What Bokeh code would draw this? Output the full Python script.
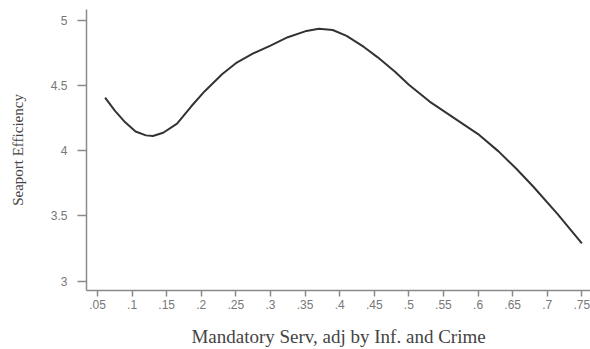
from bokeh.plotting import figure
from bokeh.models import FixedTicker, Range1d
from bokeh.embed import file_html
from bokeh.resources import INLINE

# Data
mandatory_serv = [0.061, 0.075, 0.09, 0.105, 0.12, 0.13, 0.145, 0.165, 0.185, 0.205,
                  0.23, 0.25, 0.275, 0.30, 0.325, 0.35, 0.37, 0.39, 0.41, 0.435,
                  0.455, 0.48, 0.50, 0.53, 0.565, 0.60, 0.63, 0.655, 0.68, 0.715, 0.75]
seaport_eff = [4.41, 4.31, 4.22, 4.15, 4.12, 4.115, 4.14, 4.21, 4.34, 4.46,
               4.59, 4.675, 4.75, 4.81, 4.875, 4.92, 4.94, 4.93, 4.885, 4.80,
               4.72, 4.61, 4.51, 4.38, 4.255, 4.13, 3.995, 3.865, 3.725, 3.515, 3.29]

x_ticks = [0.05, 0.1, 0.15, 0.2, 0.25, 0.3, 0.35, 0.4, 0.45, 0.5, 0.55, 0.6, 0.65, 0.7, 0.75]
x_tick_labels = [".05", ".1", ".15", ".2", ".25", ".3", ".35", ".4", ".45", ".5",
                 ".55", ".6", ".65", ".7", ".75"]
y_ticks = [3, 3.5, 4, 4.5, 5]
y_tick_labels = ["3", "3.5", "4", "4.5", "5"]

p = figure(width=590, height=349, output_backend="svg", toolbar_location=None,
           x_range=Range1d(0.0341, 0.7625), y_range=Range1d(2.927, 5.088),
           min_border_left=86, min_border_right=0, min_border_top=9, min_border_bottom=59)

p.line(mandatory_serv, seaport_eff, line_color="#333333", line_width=2)

p.grid.visible = False
p.outline_line_color = None

p.xaxis.ticker = FixedTicker(ticks=x_ticks)
p.xaxis.major_label_overrides = {t: l for t, l in zip(x_ticks, x_tick_labels)}
p.yaxis.ticker = FixedTicker(ticks=y_ticks)
p.yaxis.major_label_overrides = {t: l for t, l in zip(y_ticks, y_tick_labels)}

for ax in (p.xaxis[0], p.yaxis[0]):
    ax.axis_line_color = "#8a8a8a"
    ax.axis_line_width = 1.5
    ax.major_tick_line_color = "#8a8a8a"
    ax.major_tick_line_width = 1.5
    ax.major_tick_in = 0
    ax.minor_tick_line_color = None
    ax.major_label_text_color = "#777777"
    ax.major_label_text_font = "Liberation Sans"
    ax.major_label_text_font_size = "12px"
    ax.axis_label_text_font = "Liberation Serif"
    ax.axis_label_text_font_style = "normal"
    ax.axis_label_text_color = "#444444"

p.xaxis.major_tick_out = 6
p.xaxis.major_label_standoff = 3
p.xaxis.axis_label = "Mandatory Serv, adj by Inf. and Crime"
p.xaxis.axis_label_text_font_size = "19px"
p.xaxis.axis_label_standoff = 14

p.yaxis.major_tick_out = 9
p.yaxis.major_label_standoff = 10
p.yaxis.axis_label = "Seaport Efficiency"
p.yaxis.axis_label_text_font_size = "15px"
p.yaxis.axis_label_standoff = 22

open("out.html", "w").write(file_html(p, INLINE))
